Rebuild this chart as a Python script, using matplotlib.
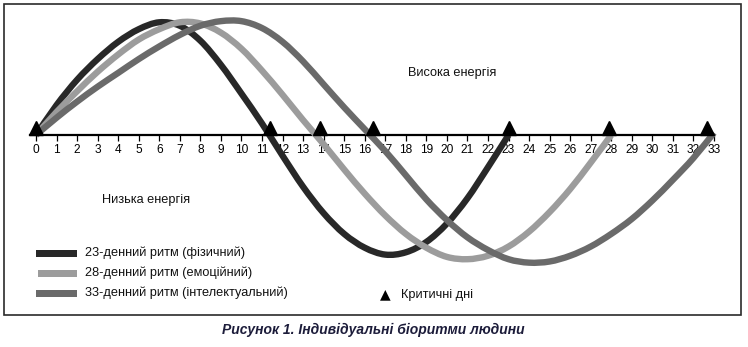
import matplotlib
matplotlib.use("Agg")
import matplotlib.pyplot as plt
from matplotlib.patches import Rectangle, PathPatch
from matplotlib.path import Path
from matplotlib import font_manager

# ---------------- data ----------------
days = list(range(0, 34))
tick_labels = [str(d) for d in days]

physical_23 = [0.0, 0.26, 0.48, 0.66, 0.81, 0.92, 0.98, 0.95, 0.82, 0.61, 0.36, 0.10,
               -0.18, -0.45, -0.68, -0.86, -0.98, -1.04, -1.02, -0.93, -0.77, -0.55, -0.28, 0.0]
emotional_28 = [0.0, 0.20, 0.38, 0.55, 0.70, 0.83, 0.92, 0.98, 0.97, 0.89, 0.75, 0.56, 0.35, 0.13,
                -0.08, -0.30, -0.51, -0.70, -0.86, -0.98, -1.06, -1.08, -1.05, -0.97, -0.84,
                -0.67, -0.47, -0.24, 0.0]
intellectual_33 = [0.0, 0.15, 0.29, 0.42, 0.54, 0.66, 0.77, 0.87, 0.95, 0.99, 0.99, 0.93, 0.81,
                   0.64, 0.44, 0.24, 0.05, -0.14, -0.35, -0.56, -0.74, -0.89, -1.00, -1.08,
                   -1.11, -1.10, -1.05, -0.97, -0.86, -0.73, -0.57, -0.39, -0.20, 0.02]
critical_days = [0.0, 11.4, 13.8, 16.4, 23.0, 27.9, 32.65]

series_labels = ["23-денний ритм (фізичний)", "28-денний ритм (емоційний)",
                 "33-денний ритм (інтелектуальний)"]
series_colors = ["#282828", "#9c9c9c", "#6a6a6a"]
critical_label = "Критичні дні"
high_label = "Висока енергія"
low_label = "Низька енергія"
caption = "Рисунок 1. Індивідуальні біоритми людини"

# ---------------- fonts ----------------
avail = {f.name for f in font_manager.fontManager.ttflist}
narrow = "Liberation Sans Narrow" if "Liberation Sans Narrow" in avail else "Liberation Sans"
plt.rcParams["font.family"] = [narrow, "DejaVu Sans"]

W, H = 748, 347
fig = plt.figure(figsize=(W / 100, H / 100), dpi=100)

# pixel mapping: day 0 -> px 36, day 33 -> px 714 ; y=0 -> px 135, 1 unit = 115 px
x0px, x33px = 36.0, 714.0
ppu_x = (x33px - x0px) / 33.0
y0px, ppu_y = 135.0, 115.0
ax = fig.add_axes([0, 0, 1, 1])
ax.set_xlim(-x0px / ppu_x, (W - x0px) / ppu_x)
ax.set_ylim(-(H - y0px) / ppu_y, y0px / ppu_y)
ax.patch.set_visible(False)

def P(px, py):
    return px / W, 1 - py / H

def smooth_curve(ys):
    """Smooth Bezier path (Catmull-Rom) through the read points."""
    pts = [(float(i), float(v)) for i, v in enumerate(ys)]
    n = len(pts)
    verts = [pts[0]]
    codes = [Path.MOVETO]
    for i in range(n - 1):
        p0 = pts[i - 1] if i > 0 else pts[i]
        p1 = pts[i]
        p2 = pts[i + 1]
        p3 = pts[i + 2] if i + 2 < n else pts[i + 1]
        c1 = (p1[0] + (p2[0] - p0[0]) / 6, p1[1] + (p2[1] - p0[1]) / 6)
        c2 = (p2[0] - (p3[0] - p1[0]) / 6, p2[1] - (p3[1] - p1[1]) / 6)
        verts += [c1, c2, p2]
        codes += [Path.CURVE4] * 3
    return Path(verts, codes)

# axis line with ticks at y=0
for s in ["top", "right", "left"]:
    ax.spines[s].set_visible(False)
ax.spines["bottom"].set_position(("data", 0))
ax.spines["bottom"].set_bounds(-0.3, 33)
ax.spines["bottom"].set_linewidth(1.6)
ax.spines["bottom"].set_zorder(1)
ax.set_xticks(days)
ax.set_xticklabels(tick_labels)
ax.tick_params(axis="x", direction="out", length=4.3, width=0.9, pad=2.5,
               labelsize=8.6, colors="black")
ax.set_yticks([])

# curves
for ys, col, z in [(physical_23, series_colors[0], 3),
                   (emotional_28, series_colors[1], 4),
                   (intellectual_33, series_colors[2], 5)]:
    ax.add_patch(PathPatch(smooth_curve(ys), facecolor="none", edgecolor=col, lw=4.6,
                           capstyle="butt", joinstyle="round", zorder=z))

# critical days (triangle base sitting on the axis)
ms = 10.5
tri_off = (ms * 100 / 72) / 2 / ppu_y
ax.plot(critical_days, [tri_off] * len(critical_days), linestyle="none", marker="^",
        markersize=ms, color="black", zorder=6)

# labels
fig.text(*P(408, 73), high_label, fontsize=9.2, ha="left", va="center", color="#111111")
fig.text(*P(102, 200), low_label, fontsize=9.2, ha="left", va="center", color="#111111")

# legend
rows_y = [253, 273, 293]
sw_x = [36, 38, 36]
for i in range(3):
    fig.patches.append(Rectangle(P(sw_x[i], rows_y[i] + 3.5), (77 - sw_x[i]) / W, 7 / H,
                                 transform=fig.transFigure, color=series_colors[i],
                                 linewidth=0))
    fig.text(*P(85, rows_y[i]), series_labels[i], fontsize=9.2, ha="left", va="center",
             color="#111111")
fig.text(*P(380, 294), "▲", fontsize=10, ha="left", va="center", color="black",
         family=["DejaVu Sans"])
fig.text(*P(401, 295), critical_label, fontsize=9.2, ha="left", va="center", color="#111111")

# frame
fig.patches.append(Rectangle(P(4, 315), (741 - 4) / W, (315 - 4) / H,
                             transform=fig.transFigure, fill=False, edgecolor="#2a2a2a",
                             linewidth=1.2))

# caption
fig.text(*P(373, 330), caption, fontsize=10.0, ha="center", va="center",
         weight="bold", style="italic", color="#1c1c3a")

fig.savefig("out.png", dpi=100)
